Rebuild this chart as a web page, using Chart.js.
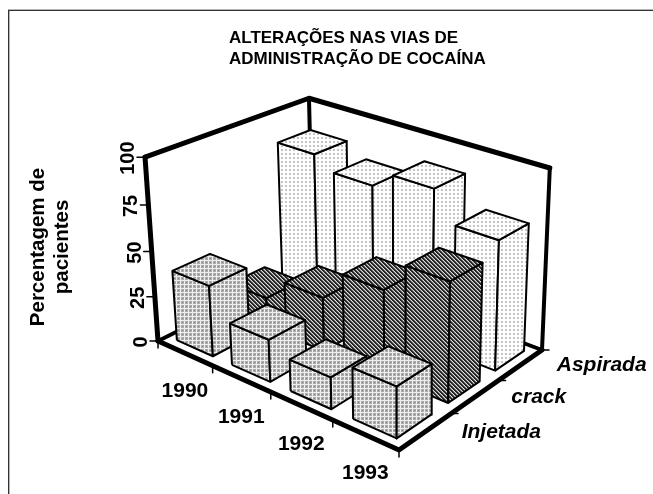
<!DOCTYPE html>
<html>
<head>
<meta charset="utf-8">
<title>Alterações nas vias de administração de cocaína</title>
<script src="https://cdn.jsdelivr.net/npm/chart.js@4/dist/chart.umd.min.js"></script>
<style>
  body { margin: 0; background: #fff; }
  canvas { display: block; }
</style>
</head>
<body>
<canvas id="chart" width="653" height="494"></canvas>
<script>
const years = ["1990", "1991", "1992", "1993"];
const seriesNames = ["Injetada", "crack", "Aspirada"];
const valueTicks = [0, 25, 50, 75, 100];
const titleLines = ["ALTERAÇÕES NAS VIAS DE", "ADMINISTRAÇÃO DE COCAÍNA"];
const axisTitleLines = ["Percentagem de", "pacientes"];

const injetada = [39, 23, 17, 27];
const crack = [17, 30, 47, 64];
const aspirada = [85, 78, 87, 71];

const FONT = '"Liberation Sans", Arial, sans-serif';

// camera: the box corners as they land on the page, the rest comes from these
const floorA = [158, 341];  // 1990 / Injetada
const floorB = [399, 450];  // 1993 / Injetada
const floorC = [542, 350];  // 1993 / Aspirada
const floorD = [313, 264];  // 1990 / Aspirada
const vanish = [397, 3727]; // where the verticals meet
const topShrink = -0.0515;

const sx = floorA[0] - floorB[0] + floorC[0] - floorD[0];
const sy = floorA[1] - floorB[1] + floorC[1] - floorD[1];
const d1x = floorB[0] - floorC[0], d1y = floorB[1] - floorC[1];
const d2x = floorD[0] - floorC[0], d2y = floorD[1] - floorC[1];
const det = d1x * d2y - d2x * d1y;
const g = (sx * d2y - d2x * sy) / det;
const h = (d1x * sy - sx * d1y) / det;

// u: year cells 0-4, v: series cells 0-3, z: percent
function project(u, v, z) {
  const s = u / years.length, t = v / seriesNames.length, m = topShrink * z / 100;
  const w = 1 + g * s + h * t;
  const X = floorA[0] + (floorB[0] * (1 + g) - floorA[0]) * s + (floorD[0] * (1 + h) - floorA[0]) * t;
  const Y = floorA[1] + (floorB[1] * (1 + g) - floorA[1]) * s + (floorD[1] * (1 + h) - floorA[1]) * t;
  return { x: (X + m * vanish[0]) / (w + m), y: (Y + m * vanish[1]) / (w + m) };
}

function makeTile(draw) {
  const c = document.createElement("canvas");
  c.width = 4;
  c.height = 4;
  const x = c.getContext("2d");
  draw(x);
  return x.createPattern(c, "repeat");
}

function paint(x, color, cells) {
  x.fillStyle = color;
  cells.forEach(p => x.fillRect(p[0], p[1], p[2] || 1, p[3] || 1));
}

const dotsLight = makeTile(x => {
  paint(x, "#fff", [[0, 0, 4, 4]]);
  paint(x, "#c4c4c4", [[1, 1, 2, 2]]);
});
const hatchDark = makeTile(x => {
  paint(x, "#dcdcdc", [[0, 0, 4, 4]]);
  paint(x, "#262626", [[0, 0, 2, 1], [1, 1, 2, 1], [2, 2, 2, 1], [3, 3], [0, 3]]);
  paint(x, "#7a7a7a", [[2, 0], [3, 1], [0, 2], [1, 3]]);
});
const gridMid = makeTile(x => {
  paint(x, "#eee", [[0, 0, 4, 4]]);
  paint(x, "#ababab", [[1, 1, 3, 3]]);
  paint(x, "#888", [[2, 2]]);
});

const barValues = [injetada, crack, aspirada];
const barFills = [gridMid, hatchDark, dotsLight];
const inset = 0.17;

const faces = [];

function addLine(points, width, color) {
  faces.push({
    data: points, showLine: true, pointRadius: 0, borderColor: color || "#000",
    borderWidth: width, borderJoinStyle: "round", borderCapStyle: "round",
    fill: false, tension: 0
  });
}

function addFace(points, fillStyle) {
  faces.push({
    data: points.concat([points[0]]), showLine: true, pointRadius: 0, borderColor: "#000",
    borderWidth: 2, borderJoinStyle: "round", fill: "shape",
    backgroundColor: fillStyle, tension: 0
  });
}

const uMax = years.length, vMax = seriesNames.length;

// walls and floor edges
addLine([project(0, vMax, 0), project(0, 0, 0)], 4);
addLine([project(0, vMax, 0), project(uMax, vMax, 0)], 4);
addLine([project(0, 0, 0), project(0, 0, 100)], 5);
addLine([project(0, 0, 100), project(0, vMax, 100), project(uMax, vMax, 100)], 5);
addLine([project(0, vMax, 100), project(0, vMax, 0)], 4);
addLine([project(uMax, vMax, 100), project(uMax, vMax, 0)], 4);
addLine([project(0, 0, 0), project(uMax, 0, 0), project(uMax, vMax, 0)], 5);

// ticks
valueTicks.forEach(val => {
  const p = project(0, 0, val);
  addLine([p, { x: p.x - 8, y: p.y }], 1.5);
});
for (let i = 0; i <= uMax; i++) {
  const p = project(i, 0, 0);
  addLine([p, { x: p.x, y: p.y + 7 }], 1.5);
}
for (let i = 1; i <= vMax; i++) {
  const p = project(uMax, i, 0);
  addLine([p, { x: p.x + 7, y: p.y }], 1.5);
}

// bars, back row first, left to right
for (let v = vMax - 1; v >= 0; v--) {
  for (let u = 0; u < uMax; u++) {
    const z = barValues[v][u];
    const u0 = u + inset, u1 = u + 1 - inset, v0 = v + inset, v1 = v + 1 - inset;
    addFace([project(u0, v0, 0), project(u1, v0, 0), project(u1, v0, z), project(u0, v0, z)], barFills[v]);
    addFace([project(u1, v0, 0), project(u1, v1, 0), project(u1, v1, z), project(u1, v0, z)], barFills[v]);
    addFace([project(u0, v0, z), project(u1, v0, z), project(u1, v1, z), project(u0, v1, z)], barFills[v]);
  }
}

function rotatedText(ctx, text, x, y) {
  ctx.save();
  ctx.translate(x, y);
  ctx.rotate(-Math.PI / 2);
  ctx.fillText(text, 0, 0);
  ctx.restore();
}

const labelsPlugin = {
  id: "labels",
  afterDraw(chart) {
    const ctx = chart.ctx;
    ctx.save();

    // page frame, only top and left are in the picture
    ctx.fillStyle = "#b5b5b5";
    ctx.fillRect(8, 9, 645, 1);
    ctx.fillRect(9, 10, 1, 484);
    ctx.fillStyle = "#333";
    ctx.fillRect(8, 10, 645, 1);
    ctx.fillRect(8, 10, 1, 484);
    ctx.fillStyle = "#000";

    ctx.textAlign = "left";
    ctx.textBaseline = "alphabetic";
    ctx.font = "bold 17px " + FONT;
    titleLines.forEach((line, i) => ctx.fillText(line, 229, 42.5 + i * 21));

    ctx.textAlign = "center";
    ctx.font = "bold 20.5px " + FONT;
    axisTitleLines.forEach((line, i) => rotatedText(ctx, line, 43.5 + i * 24, 247));

    ctx.font = "bold 20px " + FONT;
    valueTicks.forEach(val => {
      const p = project(0, 0, val);
      rotatedText(ctx, String(val), p.x - 11, p.y + 1);
    });

    ctx.font = "bold 21px " + FONT;
    years.forEach((year, i) => {
      const p = project(i + 0.5, 0, 0);
      ctx.fillText(year, p.x, p.y + 44);
    });

    ctx.textAlign = "left";
    ctx.font = "italic bold 21px " + FONT;
    seriesNames.forEach((name, i) => {
      const p = project(uMax, i + 0.5, 0);
      ctx.fillText(name, p.x + 36, p.y + 6.5);
    });
    ctx.restore();
  }
};

new Chart(document.getElementById("chart"), {
  type: "scatter",
  data: { datasets: faces.reverse() },
  options: {
    responsive: false,
    animation: false,
    layout: { padding: 0 },
    plugins: { legend: { display: false }, title: { display: false }, tooltip: { enabled: false } },
    scales: {
      x: { type: "linear", display: false, min: 0, max: 653 },
      y: { type: "linear", display: false, min: 0, max: 494, reverse: true }
    }
  },
  plugins: [labelsPlugin]
});
</script>
</body>
</html>
